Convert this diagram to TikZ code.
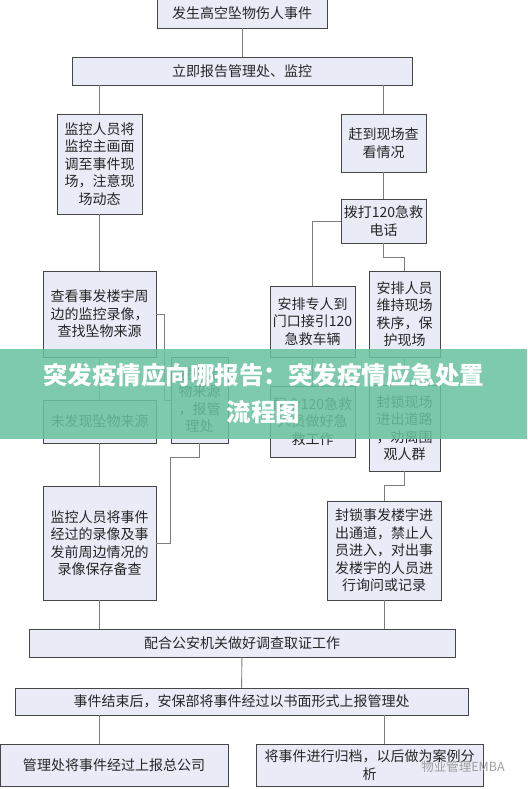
\documentclass[tikz,border=0pt]{standalone}
\usepackage{fontspec}
\newfontfamily\cjk{Noto Sans CJK SC}
\usetikzlibrary{positioning, calc, shadows}

\definecolor{boxfill}{RGB}{233,235,246}
\definecolor{boxline}{RGB}{70,70,70}
\definecolor{connline}{RGB}{125,125,125}
\definecolor{bannerfill}{RGB}{104,194,158}

\tikzset{
  % --- Hop quy trinh ------------------------------------------
  evbox/.style={draw=boxline, fill=boxfill, line width=0.9pt,
    align=center, inner sep=0pt, text=black!85,
    font=\cjk\fontsize{14}{17.5}\selectfont,
    drop shadow={shadow xshift=1.2pt, shadow yshift=-1.2pt,
      opacity=0.25, fill=black!40}},
  % --- Duong noi ----------------------------------------------
  ln/.style={draw=connline, line width=0.9pt},
  % --- Bang tieu de -------------------------------------------
  banner/.style={fill=bannerfill, fill opacity=0.86, text opacity=1,
    text=white, align=center, inner sep=0pt,
    font=\cjk\bfseries\fontsize{24.5}{37}\selectfont},
  wmark/.style={text=gray!75, inner sep=0pt,
    font=\cjk\fontsize{12.5}{14}\selectfont}
}

\begin{document}
\begin{tikzpicture}[x=1pt, y=-1pt]
  \useasboundingbox (0,0) rectangle (527,789);

  % --- Hang 1: su kien, bao cao --------------------------------
  \node[evbox, minimum width=170pt, minimum height=29pt] (EV) at (242,13.5) {发生高空坠物伤人事件};
  \node[evbox, minimum width=340pt, minimum height=28pt] (RP) at (242,71) {立即报告管理处、监控};

  % --- Cot trai: giam sat --------------------------------------
  \node[evbox, minimum width=85pt, minimum height=100pt] (MON) at (99.5,164) {监控人员将\\监控主画面\\调至事件现\\场，注意现\\场动态};
  \node[evbox, minimum width=113pt, minimum height=86pt] (CHK) at (99.5,314) {查看事发楼宇周\\边的监控录像，\\查找坠物来源};
  \node[evbox, minimum width=57pt, minimum height=86pt] (FND) at (199.5,400) {发现坠\\物来源\\，报管\\理处};
  \node[evbox, minimum width=113pt, minimum height=43pt] (NFD) at (99.5,421.5) {未发现坠物来源};
  \node[evbox, minimum width=113pt, minimum height=114pt] (SAV) at (99.5,543) {监控人员将事件\\经过的录像及事\\发前周边情况的\\录像保存备查};

  % --- Cot phai: hien truong -----------------------------------
  \node[evbox, minimum width=85pt, minimum height=58pt] (ARR) at (383.5,143) {赶到现场查\\看情况};
  \node[evbox, minimum width=85pt, minimum height=44pt] (CAL) at (383.5,221) {拨打120急救\\电话};
  \node[evbox, minimum width=85pt, minimum height=71pt] (GDE) at (312.5,321.5) {安排专人到\\门口接引120\\急救车辆};
  \node[evbox, minimum width=71pt, minimum height=86pt] (ORD) at (404.5,314) {安排人员\\维持现场\\秩序，保\\护现场};
  \node[evbox, minimum width=85pt, minimum height=71pt] (AID) at (312.5,421.5) {配合120急救\\人员做好急\\救工作};
  \node[evbox, minimum width=71pt, minimum height=86pt] (SEL) at (404.5,428) {封锁现场\\进出道路\\，劝离围\\观人群};
  \node[evbox, minimum width=114pt, minimum height=99pt] (BLK) at (384,550.5) {封锁事发楼宇进\\出通道，禁止人\\员进入，对出事\\发楼宇的人员进\\行询问或记录};

  % --- Hang cuoi: cong an, tong ket ----------------------------
  \node[evbox, minimum width=426pt, minimum height=28pt] (POL) at (242,643) {配合公安机关做好调查取证工作};
  \node[evbox, minimum width=453pt, minimum height=27pt] (AFT) at (241.5,701.5) {事件结束后，安保部将事件经过以书面形式上报管理处};
  \node[evbox, minimum width=228pt, minimum height=42pt] (HQ) at (114,765) {管理处将事件经过上报总公司};
  \node[evbox, minimum width=227pt, minimum height=42pt] (ARC) at (369.5,765) {将事件进行归档，以后做为案例分\\析};

  % --- Duong noi -----------------------------------------------
  \draw[ln] (EV) -- (RP);
  \draw[ln] (RP.south -| MON.north) -- (MON.north);
  \draw[ln] (RP.south -| ARR.north) -- (ARR.north);
  \draw[ln] (MON) -- (CHK);
  \draw[ln] (CHK) -- (NFD);
  \draw[ln] (NFD) -- (SAV);
  \draw[ln] (CHK.east) -- ++(8,0) |- (FND.west);
  \draw[ln] (FND.south) -- ++(0,14) -| (FND.west |- SAV.east) -- (SAV.east);
  \draw[ln] (ARR) -- (CAL);
  \draw[ln] (CAL.west) -| (GDE.north);
  \draw[ln] (CAL.south) -- ++(0,14) -| (ORD.north);
  \draw[ln] (GDE) -- (AID);
  \draw[ln] (ORD) -- (SEL);
  \draw[ln] (SEL.south) -- ++(0,14) -| (BLK.north);
  \draw[ln] (SAV.south) -- (SAV.south |- POL.north);
  \draw[ln] (BLK.south) -- (BLK.south |- POL.north);
  \draw[ln] (POL) -- (AFT);
  \draw[ln] (AFT.south -| SAV.south) -- (HQ.north -| SAV.south);
  \draw[ln] (AFT.south -| BLK.south) -- (ARC.north -| BLK.south);

  % --- Tieu de, dau nuoc ---------------------------------------
  \node[banner, minimum width=527pt, minimum height=90pt] (BN) at (263.5,394) {突发疫情应向哪报告：突发疫情应急处置\\流程图};
  \node[wmark] (WM) at (463,767) {物业管理EMBA};

\end{tikzpicture}
\end{document}
